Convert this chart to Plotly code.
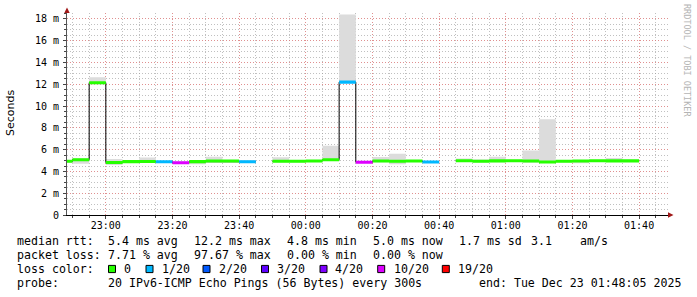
import plotly.graph_objects as go
from datetime import datetime, timedelta

# ---------------- data ----------------
bin_start = [
    "2025-12-22 22:45", "2025-12-22 22:50", "2025-12-22 22:55", "2025-12-22 23:00",
    "2025-12-22 23:05", "2025-12-22 23:10", "2025-12-22 23:15", "2025-12-22 23:20",
    "2025-12-22 23:25", "2025-12-22 23:30", "2025-12-22 23:35", "2025-12-22 23:40",
    "2025-12-22 23:45", "2025-12-22 23:50", "2025-12-22 23:55", "2025-12-23 00:00",
    "2025-12-23 00:05", "2025-12-23 00:10", "2025-12-23 00:15", "2025-12-23 00:20",
    "2025-12-23 00:25", "2025-12-23 00:30", "2025-12-23 00:35", "2025-12-23 00:40",
    "2025-12-23 00:45", "2025-12-23 00:50", "2025-12-23 00:55", "2025-12-23 01:00",
    "2025-12-23 01:05", "2025-12-23 01:10", "2025-12-23 01:15", "2025-12-23 01:20",
    "2025-12-23 01:25", "2025-12-23 01:30", "2025-12-23 01:35",
]
step_seconds = 300

# median rtt in ms (None = no data)
median_ms = [4.93, 5.08, 12.15, 4.82, 4.90, 4.92, 4.89, 4.80, 4.90, 4.95, 4.95, 4.89,
             None, 4.93, 4.93, 4.96, 5.08, 12.20, 4.84, 4.95, 4.93, 4.96, 4.87,
             None, 4.98, 4.94, 4.97, 4.98, 4.96, 4.87, 4.94, 4.95, 4.98, 4.97, 4.97]
# lost pings out of 20
loss = [0, 0, 0, 0, 0, 0, 1, 10, 0, 0, 0, 1,
        None, 0, 0, 0, 0, 1, 10, 0, 0, 0, 1,
        None, 0, 0, 0, 0, 0, 0, 0, 0, 0, 0, 0]
# smoke (spread of ping rtts) in ms
smoke_lo = [4.80, 4.70, 12.00, 4.60, 4.85, 4.85, 4.85, 4.78, 4.65, 4.85, 4.85, 4.85,
            None, 4.85, 4.85, 4.90, 5.00, 12.20, 4.80, 4.85, 4.65, 4.90, 4.85,
            None, 4.90, 4.85, 4.85, 4.90, 4.80, 4.80, 4.85, 4.75, 4.90, 4.90, 4.90]
smoke_hi = [5.05, 5.20, 12.65, 5.15, 5.00, 5.28, 4.95, 4.92, 5.00, 5.35, 5.05, 5.02,
            None, 5.30, 5.05, 5.02, 6.36, 18.42, 4.92, 5.32, 5.62, 5.02, 4.95,
            None, 5.18, 5.10, 5.35, 5.05, 5.92, 8.80, 5.05, 5.00, 5.05, 5.23, 5.02]

loss_levels = [0, 1, 2, 3, 4, 10, 19]
loss_labels = ["0", "1/20", "2/20", "3/20", "4/20", "10/20", "19/20"]
loss_colors = ["#26ff00", "#00b8ff", "#0059ff", "#5e00ff", "#7e00ff", "#dd00ff", "#ff0000"]

x_tick_vals = ["2025-12-22 23:00", "2025-12-22 23:20", "2025-12-22 23:40",
               "2025-12-23 00:00", "2025-12-23 00:20", "2025-12-23 00:40",
               "2025-12-23 01:00", "2025-12-23 01:20", "2025-12-23 01:40"]
y_tick_vals = [0, 2, 4, 6, 8, 10, 12, 14, 16, 18]
y_tick_text = ["0", "2 m", "4 m", "6 m", "8 m", "10 m", "12 m", "14 m", "16 m", "18 m"]

x_range = ["2025-12-22 22:48:21", "2025-12-23 01:48:40"]
y_range = [0, 18.55]

stats_rows = [
    [(16, "median rtt:"), (107, "5.4 ms avg"), (193, "12.2 ms max"), (286, "4.8 ms min"),
     (372, "5.0 ms now"), (458, "1.7 ms sd"), (530, "3.1"), (579, "am/s")],
    [(16, "packet loss:"), (107, "7.71 % avg"), (193, "97.67 % max"), (286, "0.00 % min"),
     (372, "0.00 % now")],
    [(16, "loss color:")],
    [(16, "probe:"), (107, "20 IPv6-ICMP Echo Pings (56 Bytes) every 300s"),
     (478, "end: Tue Dec 23 01:48:05 2025")],
]
row_y = [241.3, 254.7, 269.0, 283.0]
loss_key_x = [108.5, 146, 203, 261.5, 320, 377.7, 442.3]
loss_label_x = [123.3, 160.7, 218.3, 276, 334, 393.3, 457.3]

# ---------------- helpers ----------------
W, H = 697, 297
ML, MR, MT, MB = 67, 29, 13, 82
PW, PH = W - ML - MR, H - MT - MB


def px(xp):
    return (xp - ML) / PW


def py(yp):
    return (H - MB - yp) / PH


def t(s):
    return datetime.fromisoformat(s)


def t_end(s):
    return t(s) + timedelta(seconds=step_seconds)


fig = go.Figure()

# smoke
sx, sy = [], []
for s, lo, hi in zip(bin_start, smoke_lo, smoke_hi):
    if lo is None:
        continue
    a, b = t(s), t_end(s)
    sx += [a, b, b, a, a, None]
    sy += [lo, lo, hi, hi, lo, None]
fig.add_trace(go.Scatter(x=sx, y=sy, mode="lines", fill="toself", fillcolor="#dcdcdc",
                         line=dict(width=0, color="#dcdcdc"), hoverinfo="skip", showlegend=False))

# black median step line
lx, ly = [], []
for i, (s, m) in enumerate(zip(bin_start, median_ms)):
    if m is None:
        if lx and lx[-1] is not None:
            lx.append(None)
            ly.append(None)
        continue
    lx += [t(s), t_end(s)]
    ly += [m, m]
fig.add_trace(go.Scatter(x=lx, y=ly, mode="lines", line=dict(color="#000000", width=1),
                         hoverinfo="skip", showlegend=False))

# loss-coloured median bands
half = 0.14
for lvl, col in zip(loss_levels, loss_colors):
    bx, by = [], []
    for s, m, l in zip(bin_start, median_ms, loss):
        if m is None or l != lvl:
            continue
        a, b = t(s), t_end(s)
        bx += [a, b, b, a, a, None]
        by += [m - half, m - half, m + half, m + half, m - half, None]
    if bx:
        fig.add_trace(go.Scatter(x=bx, y=by, mode="lines", fill="toself", fillcolor=col,
                                 line=dict(width=0, color=col), hoverinfo="skip",
                                 showlegend=False))

mono = "DejaVu Sans Mono"
grid_major = "rgba(255,95,95,0.5)"
grid_minor = "rgba(150,150,150,0.6)"

fig.update_layout(
    width=W, height=H,
    margin=dict(l=ML, r=MR, t=MT, b=MB),
    paper_bgcolor="white", plot_bgcolor="white",
    showlegend=False,
    xaxis=dict(
        type="date", range=x_range, tickvals=x_tick_vals, tickformat="%H:%M",
        showgrid=True, gridcolor=grid_major, griddash="1px,2px", gridwidth=1,
        minor=dict(dtick=step_seconds * 1000, tick0="2025-12-22 22:50", showgrid=True,
                   gridcolor=grid_minor, griddash="1px,2px", ticks="outside", ticklen=2,
                   tickcolor="#444"),
        showline=True, linecolor="#000", linewidth=1, zeroline=False,
        ticks="outside", ticklen=3, tickcolor="#444", ticklabelstandoff=-2,
        tickfont=dict(family=mono, size=10, color="#000"),
    ),
    yaxis=dict(
        range=y_range, tickvals=y_tick_vals, ticktext=y_tick_text,
        showgrid=True, gridcolor=grid_major, griddash="1px,2px", gridwidth=1,
        minor=dict(dtick=0.5, showgrid=True, gridcolor=grid_minor, griddash="1px,2px",
                   ticks="outside", ticklen=2, tickcolor="#444"),
        showline=True, linecolor="#555", linewidth=1, zeroline=False,
        ticks="outside", ticklen=3, tickcolor="#444", ticklabelstandoff=2,
        tickfont=dict(family=mono, size=10, color="#000"),
    ),
)

ann = []
ann.append(dict(text="Seconds", x=px(10), y=py(113), xref="paper", yref="paper",
                xanchor="center", yanchor="middle",
                textangle=-90, showarrow=False, font=dict(family="DejaVu Sans", size=11, color="#000")))
ann.append(dict(text="RRDTOOL / TOBI OETIKER", x=px(687), y=py(60), xref="paper", yref="paper",
                xanchor="center", yanchor="middle",
                textangle=90, showarrow=False, font=dict(family=mono, size=8.5, color="#b4b4b4")))
for ry, row in zip(row_y, stats_rows):
    for xx, txt in row:
        ann.append(dict(text=txt, x=px(xx), y=py(ry), xref="paper", yref="paper",
                        xanchor="left", yanchor="middle", showarrow=False, borderpad=0,
                        font=dict(family=mono, size=11.6, color="#000")))
for xx, txt in zip(loss_label_x, loss_labels):
    ann.append(dict(text=txt, x=px(xx), y=py(row_y[2]), xref="paper", yref="paper",
                    xanchor="left", yanchor="middle", showarrow=False, borderpad=0,
                    font=dict(family=mono, size=11.6, color="#000")))
fig.update_layout(annotations=ann)

shapes = []
for xx, col in zip(loss_key_x, loss_colors):
    shapes.append(dict(type="rect", xref="paper", yref="paper",
                       x0=px(xx), x1=px(xx + 7), y0=py(row_y[2] + 3.6), y1=py(row_y[2] - 3.6),
                       fillcolor=col, line=dict(color="#000", width=1)))
arrow_col = "#a01818"
shapes.append(dict(type="path", xref="paper", yref="paper",
                   path=f"M {px(67)} {py(7.5)} L {px(64.3)} {py(13)} L {px(69.7)} {py(13)} Z",
                   fillcolor=arrow_col, line=dict(width=0)))
shapes.append(dict(type="path", xref="paper", yref="paper",
                   path=f"M {px(673.5)} {py(215)} L {px(668)} {py(212.3)} L {px(668)} {py(217.7)} Z",
                   fillcolor=arrow_col, line=dict(width=0)))
fig.update_layout(shapes=shapes)

fig.write_html("out.html")
